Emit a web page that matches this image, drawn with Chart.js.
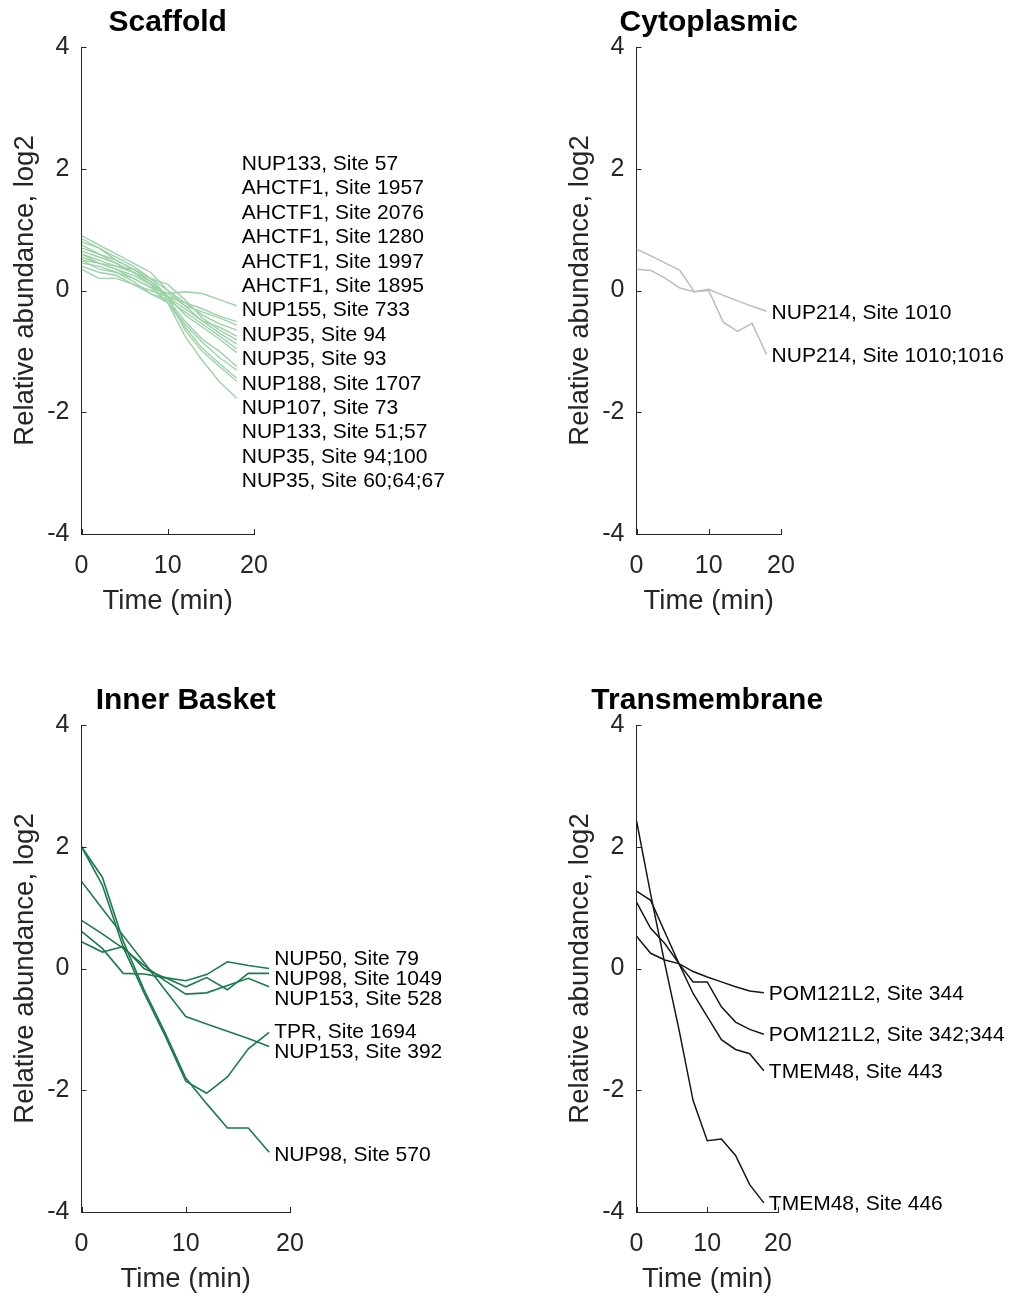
<!DOCTYPE html>
<html>
<head>
<meta charset="utf-8">
<script src="https://cdn.jsdelivr.net/npm/chart.js@4.4.1/dist/chart.umd.min.js"></script>
<style>
  body { margin: 0; background: #fff; width: 1011px; height: 1296px; position: relative; overflow: hidden; }
  canvas { position: absolute; }
</style>
</head>
<body>
<canvas id="c1" width="505" height="618" style="left:0;top:0"></canvas>
<canvas id="c2" width="456" height="618" style="left:555px;top:0"></canvas>
<canvas id="c3" width="505" height="618" style="left:0;top:678px"></canvas>
<canvas id="c4" width="456" height="618" style="left:555px;top:678px"></canvas>
<script>
// tiempos de muestreo (min)
const tiempo = [0, 2, 4, 6, 8, 10, 12, 14, 16, 18];
const ticksX = [0, 10, 20];
const ticksY = [-4, -2, 0, 2, 4];

// Scaffold
const scaffoldNombres = [
  'NUP133, Site 57', 'AHCTF1, Site 1957', 'AHCTF1, Site 2076', 'AHCTF1, Site 1280',
  'AHCTF1, Site 1997', 'AHCTF1, Site 1895', 'NUP155, Site 733', 'NUP35, Site 94',
  'NUP35, Site 93', 'NUP188, Site 1707', 'NUP107, Site 73', 'NUP133, Site 51;57',
  'NUP35, Site 94;100', 'NUP35, Site 60;64;67'
];
const scaffoldValores = [
  [0.55, 0.45, 0.35, 0.25, 0.10, -0.05, -0.02, -0.05, -0.15, -0.25],
  [0.70, 0.60, 0.45, 0.30, 0.15, -0.10, -0.20, -0.30, -0.42, -0.51],
  [0.45, 0.40, 0.30, 0.20, 0.05, -0.05, -0.25, -0.35, -0.45, -0.57],
  [0.80, 0.70, 0.55, 0.40, 0.20, 0.00, -0.20, -0.40, -0.55, -0.65],
  [0.35, 0.20, 0.20, 0.10, 0.00, -0.10, -0.30, -0.50, -0.60, -0.75],
  [0.60, 0.50, 0.40, 0.35, 0.20, 0.10, -0.15, -0.45, -0.65, -0.81],
  [0.90, 0.75, 0.60, 0.45, 0.30, 0.00, -0.25, -0.50, -0.70, -0.88],
  [0.50, 0.35, 0.30, 0.15, -0.05, -0.15, -0.35, -0.55, -0.75, -0.96],
  [0.65, 0.55, 0.45, 0.30, 0.10, -0.10, -0.40, -0.60, -0.80, -1.02],
  [0.75, 0.60, 0.50, 0.35, 0.15, -0.15, -0.50, -0.80, -1.00, -1.25],
  [0.40, 0.30, 0.25, 0.10, -0.05, -0.20, -0.55, -0.85, -1.10, -1.31],
  [0.60, 0.45, 0.40, 0.30, 0.10, -0.20, -0.60, -0.95, -1.20, -1.44],
  [0.85, 0.70, 0.50, 0.35, 0.20, -0.10, -0.65, -1.00, -1.25, -1.49],
  [0.50, 0.45, 0.35, 0.20, 0.05, -0.20, -0.75, -1.15, -1.50, -1.77]
];

// Cytoplasmic
const citoNombres = ['NUP214, Site 1010', 'NUP214, Site 1010;1016'];
const citoValores = [
  [0.68, 0.57, 0.45, 0.33, -0.02, 0.02, -0.08, -0.17, -0.26, -0.34],
  [0.35, 0.33, 0.20, 0.04, -0.02, 0.00, -0.52, -0.67, -0.54, -1.05]
];

// Inner Basket
const basketNombres = [
  'NUP50, Site 79', 'NUP98, Site 1049', 'NUP153, Site 528',
  'TPR, Site 1694', 'NUP153, Site 392', 'NUP98, Site 570'
];
const basketValores = [
  [0.44, 0.27, 0.36, 0.00, -0.15, -0.20, -0.10, 0.11, 0.05, 0.00],
  [0.61, 0.33, -0.08, -0.09, -0.15, -0.30, -0.15, -0.35, -0.08, -0.08],
  [0.79, 0.57, 0.33, 0.05, -0.20, -0.42, -0.40, -0.28, -0.16, -0.30],
  [2.00, 1.37, 0.35, -0.40, -1.10, -1.85, -2.05, -1.78, -1.32, -1.05],
  [1.43, 0.98, 0.54, 0.10, -0.35, -0.79, -0.91, -1.03, -1.15, -1.28],
  [2.00, 1.50, 0.45, -0.35, -1.05, -1.80, -2.22, -2.62, -2.62, -3.02]
];

// Transmembrane
const transNombres = [
  'POM121L2, Site 344', 'POM121L2, Site 342;344', 'TMEM48, Site 443', 'TMEM48, Site 446'
];
const transValores = [
  [0.53, 0.25, 0.14, 0.08, -0.05, -0.14, -0.22, -0.30, -0.37, -0.40],
  [1.27, 1.12, 0.60, 0.08, -0.22, -0.22, -0.63, -0.88, -1.00, -1.08],
  [1.09, 0.66, 0.41, 0.08, -0.41, -0.79, -1.17, -1.33, -1.40, -1.68],
  [2.43, 1.22, 0.08, -1.00, -2.17, -2.83, -2.80, -3.07, -3.55, -3.85]
];

Chart.defaults.font.family = '"Liberation Sans", Arial, sans-serif';
Chart.defaults.color = '#262626';

// titulo, ticks hacia dentro y etiquetas al final de cada linea
const ejesPlugin = {
  id: 'ejes',
  afterDraw(chart, args, opts) {
    const ctx = chart.ctx;
    const sx = chart.scales.x;
    const sy = chart.scales.y;
    const area = chart.chartArea;
    ctx.save();
    ctx.strokeStyle = '#262626';
    ctx.lineWidth = 1;
    ctx.beginPath();
    sy.ticks.forEach(t => {
      const py = Math.round(sy.getPixelForValue(t.value)) + 0.5;
      ctx.moveTo(area.left, py);
      ctx.lineTo(area.left + 5, py);
    });
    sx.ticks.forEach(t => {
      const px = Math.round(sx.getPixelForValue(t.value)) + 0.5;
      ctx.moveTo(px, area.bottom);
      ctx.lineTo(px, area.bottom - 5);
    });
    ctx.stroke();

    ctx.fillStyle = '#000';
    ctx.font = 'bold 30px "Liberation Sans", Arial, sans-serif';
    ctx.textAlign = 'center';
    ctx.textBaseline = 'middle';
    ctx.fillText(opts.titulo, (area.left + area.right) / 2, area.top - 24);

    // posiciones de etiquetas, separadas si se solapan
    const ultimo = tiempo.length - 1;
    let items = chart.data.datasets.map(ds => ({
      texto: ds.label,
      y: sy.getPixelForValue(ds.data[ultimo].y)
    }));
    items.sort((a, b) => a.y - b.y);
    let grupos = items.map(it => ({ items: [it], centro: it.y }));
    let cambio = true;
    while (cambio) {
      cambio = false;
      for (let i = 0; i < grupos.length - 1; i++) {
        const a = grupos[i], b = grupos[i + 1];
        const finA = a.centro + (a.items.length - 1) * opts.gap / 2;
        const iniB = b.centro - (b.items.length - 1) * opts.gap / 2;
        if (iniB - finA < opts.gap) {
          const todos = a.items.concat(b.items);
          const media = todos.reduce((s, it) => s + it.y, 0) / todos.length;
          grupos.splice(i, 2, { items: todos, centro: media });
          cambio = true;
          break;
        }
      }
    }
    const x0 = sx.getPixelForValue(tiempo[ultimo]) + 5;
    ctx.font = '21px "Liberation Sans", Arial, sans-serif';
    ctx.textAlign = 'left';
    grupos.forEach(g => {
      const ini = g.centro - (g.items.length - 1) * opts.gap / 2 + opts.shift;
      g.items.forEach((it, k) => ctx.fillText(it.texto, x0, ini + k * opts.gap));
    });
    ctx.restore();
  }
};

function dibujarPanel(id, titulo, nombres, valores, color, grosor, derecha, gap, shift) {
  const ctx = document.getElementById(id).getContext('2d');
  const datasets = nombres.map((n, i) => ({
    label: n,
    data: tiempo.map((t, j) => ({ x: t, y: valores[i][j] })),
    borderColor: color,
    borderWidth: grosor,
    pointRadius: 0,
    tension: 0,
    fill: false
  }));
  return new Chart(ctx, {
    type: 'line',
    data: { datasets: datasets },
    plugins: [ejesPlugin],
    options: {
      responsive: false,
      animation: false,
      layout: { padding: { left: 0, right: ctx.canvas.width - derecha, top: 47, bottom: 0 } },
      plugins: {
        legend: { display: false },
        tooltip: { enabled: false },
        title: { display: false },
        ejes: { titulo: titulo, gap: gap, shift: shift }
      },
      scales: {
        x: {
          type: 'linear',
          min: 0,
          max: 20,
          afterBuildTicks: s => { s.ticks = ticksX.map(v => ({ value: v })); },
          afterFit: s => { s.height = 84; },
          grid: { display: false, drawTicks: false },
          border: { display: true, color: '#262626', width: 1 },
          ticks: { font: { size: 25 }, padding: 17, color: '#262626', maxRotation: 0 },
          title: { display: true, text: 'Time (min)', font: { size: 27.5 }, color: '#262626', padding: { top: 0, bottom: 0 } }
        },
        y: {
          min: -4,
          max: 4,
          afterBuildTicks: s => { s.ticks = ticksY.map(v => ({ value: v })); },
          afterFit: s => { s.width = 81.5; },
          grid: { display: false, drawTicks: false },
          border: { display: true, color: '#262626', width: 1 },
          ticks: { font: { size: 25 }, padding: 12, color: '#262626' },
          title: { display: true, text: 'Relative abundance, log2', font: { size: 27.5 }, color: '#262626', padding: { top: 9, bottom: 0 } }
        }
      }
    }
  });
}

dibujarPanel('c1', 'Scaffold', scaffoldNombres, scaffoldValores, '#9dd2a8', 1.4, 254, 24.4, -27);
dibujarPanel('c2', 'Cytoplasmic', citoNombres, citoValores, '#bcbcbc', 1.5, 226, 21, 2);
dibujarPanel('c3', 'Inner Basket', basketNombres, basketValores, '#1d7a4c', 1.6, 290, 20, 3);
dibujarPanel('c4', 'Transmembrane', transNombres, transValores, '#161616', 1.5, 223, 21, 1);
</script>
</body>
</html>
